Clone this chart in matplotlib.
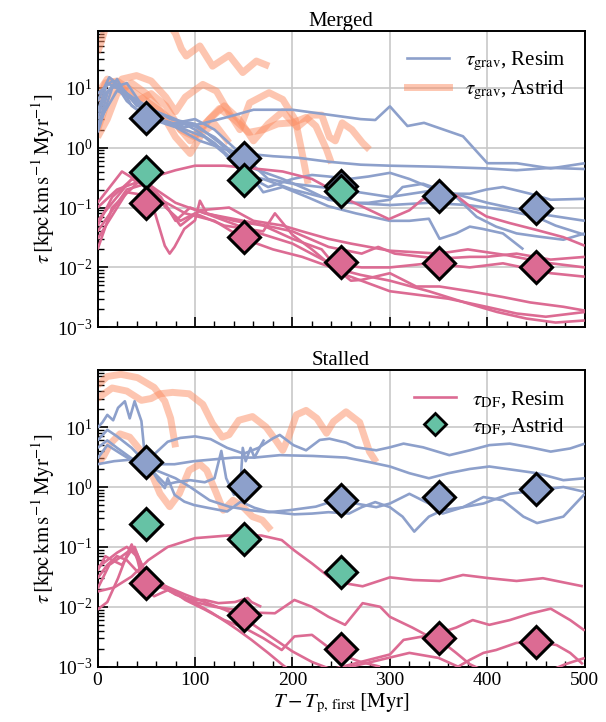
import matplotlib
matplotlib.use("Agg")
import matplotlib.pyplot as plt
from matplotlib.ticker import LogLocator, NullFormatter, MultipleLocator
from matplotlib.lines import Line2D

plt.rcParams["font.family"] = ["Liberation Serif", "DejaVu Serif"]
plt.rcParams["mathtext.fontset"] = "stix"

BLUE = "#8da0cb"
ORANGE = "#fc8d62"
GREEN = "#66c2a5"
PINK = "#dc6b93"

# ---------------- Merged: tau_grav from the resimulations ----------------
merged_grav_resim_t = [
    [0, 8, 18, 30, 50, 70, 90, 110, 135, 160, 200, 240, 270, 285, 300, 318, 335, 375, 400, 430, 465, 500],
    [0, 10, 20, 35, 55, 80, 105, 130, 150, 180, 205, 238, 270, 300, 350, 400, 430, 465, 500],
    [0, 12, 25, 40, 60, 80, 100, 120, 140, 160, 175, 200, 220, 237, 258, 278, 300, 320, 340, 361, 382, 399, 416, 444, 465, 500],
    [0, 15, 30, 50, 70, 95, 120, 140, 160, 190, 215, 237, 258, 278, 300, 313, 334, 351, 368, 389, 409, 430, 451, 478, 500],
    [0, 10, 30, 50, 75, 100, 125, 150, 170, 190, 215, 237, 265, 300, 320, 340, 351, 368, 382, 395, 416, 437],
    [0, 20, 40, 60, 90, 110, 130, 150, 170, 200, 230, 260, 300, 340, 380, 420, 450, 470, 500],
    [0, 15, 35, 55, 75, 100, 120, 140, 155, 175, 200, 250, 300, 350, 400, 450, 500],
]
merged_grav_resim_v = [
    [3, 8, 12, 6, 3.2, 2.8, 2.2, 2.6, 3.3, 4.3, 4.3, 3.5, 3.0, 2.9, 4.9, 2.3, 2.6, 1.55, 0.55, 0.55, 0.45, 0.55],
    [2, 8, 14, 5, 3, 2.2, 1.3, 0.95, 0.8, 0.72, 0.68, 0.58, 0.52, 0.5, 0.48, 0.45, 0.42, 0.46, 0.44],
    [6, 15, 10, 5, 4, 3, 2, 1.2, 0.6, 0.3, 0.22, 0.3, 0.35, 0.33, 0.3, 0.33, 0.38, 0.3, 0.22, 0.17, 0.17, 0.2, 0.22, 0.17, 0.135, 0.14],
    [1.8, 10, 12, 4, 2.5, 2.5, 1.5, 0.8, 0.45, 0.3, 0.2, 0.135, 0.12, 0.12, 0.135, 0.22, 0.25, 0.2, 0.15, 0.07, 0.048, 0.037, 0.033, 0.029, 0.037],
    [4, 12, 8, 5, 3, 2.5, 1.2, 0.5, 0.18, 0.22, 0.15, 0.105, 0.08, 0.06, 0.06, 0.065, 0.03, 0.037, 0.048, 0.044, 0.037, 0.02],
    [2.5, 9, 6, 3, 2, 1.5, 0.8, 0.35, 0.3, 0.2, 0.15, 0.12, 0.11, 0.12, 0.11, 0.09, 0.07, 0.05, 0.035],
    [8, 13, 7, 3, 2.5, 3, 2, 1.0, 0.6, 0.3, 0.25, 0.2, 0.15, 0.2, 0.12, 0.08, 0.06],
]

# ---------------- Merged: tau_grav from Astrid ----------------
merged_grav_astrid_t = [
    [0, 4, 8, 20, 45, 70, 80, 86, 91, 105, 118, 135, 149, 163, 176],
    [0, 10, 25, 40, 55, 70, 80, 90, 108, 122, 135, 146, 156, 176, 190, 203, 210, 216],
    [0, 8, 20, 35, 50, 65, 80, 95, 110, 125, 140, 155, 170, 185, 200, 214, 224, 235, 240],
    [0, 10, 25, 40, 55, 70, 85, 100, 115, 130, 145, 160, 175, 190, 205, 220, 230, 238, 244, 251, 261, 272, 279],
    [0, 10, 20, 35, 50, 65, 80, 95, 108, 120, 135],
]
merged_grav_astrid_v = [
    [39, 60, 100, 180, 200, 140, 80, 45, 34, 50, 23, 35, 18, 28, 23],
    [2, 6, 14, 16, 13, 7, 4, 7, 11.4, 8.8, 3.8, 2.0, 5.6, 8.3, 6.4, 2.9, 0.8, 0.25],
    [5, 12, 13, 9, 6, 4, 2.5, 1.3, 2.5, 4.5, 3.0, 1.8, 2.0, 2.5, 2.6, 3.2, 2.3, 0.93, 0.55],
    [8, 14, 10, 6, 8, 5, 2, 1.5, 3, 5, 3, 1.3, 2.5, 4.0, 2.2, 3.5, 3.5, 1.5, 1.3, 2.6, 2.0, 1.2, 0.93],
    [1.5, 3, 8, 12, 8, 4, 1.5, 0.8, 1.8, 2.5, 1.2],
]

# ---------------- Merged: tau_DF from the resimulations ----------------
merged_df_resim_t = [
    [0, 20, 50, 80, 100, 130, 160, 190, 220, 240, 251, 271, 299, 320, 333, 351, 368, 382, 399, 423, 451, 478, 500],
    [0, 15, 40, 60, 80, 110, 150, 200, 237, 271, 288, 305, 350, 382, 399, 430, 465, 500],
    [0, 25, 55, 70, 85, 100, 130, 170, 182, 200, 220, 237, 271, 300, 340, 382, 416, 450, 465, 500],
    [0, 15, 45, 65, 80, 95, 120, 160, 200, 237, 260, 271, 300, 327, 351, 382, 416, 444, 478, 500],
    [0, 30, 50, 59, 69, 74, 79, 89, 100, 105, 112, 140, 170, 200, 230, 250, 300, 360, 399, 430, 460, 500],
    [0, 35, 60, 85, 105, 135, 160, 190, 210, 237, 260, 300, 350, 380, 420, 460, 500],
    [0, 30, 60, 90, 120, 150, 180, 210, 240, 270, 300, 340, 380, 410, 440, 470, 500],
]
merged_df_resim_v = [
    [0.1, 0.2, 0.3, 0.42, 0.5, 0.5, 0.45, 0.4, 0.3, 0.2, 0.15, 0.105, 0.064, 0.09, 0.135, 0.17, 0.16, 0.105, 0.071, 0.055, 0.042, 0.032, 0.023],
    [0.05, 0.15, 0.35, 0.2, 0.12, 0.08, 0.06, 0.04, 0.022, 0.017, 0.022, 0.017, 0.014, 0.015, 0.015, 0.017, 0.0135, 0.015],
    [0.12, 0.4, 0.2, 0.1, 0.06, 0.08, 0.05, 0.04, 0.08, 0.035, 0.02, 0.0117, 0.010, 0.010, 0.0117, 0.010, 0.0117, 0.009, 0.008, 0.007],
    [0.02, 0.1, 0.3, 0.15, 0.06, 0.1, 0.07, 0.04, 0.025, 0.012, 0.006, 0.0062, 0.008, 0.0048, 0.0048, 0.004, 0.0032, 0.0026, 0.0022, 0.0019],
    [0.04, 0.2, 0.25, 0.08, 0.023, 0.017, 0.022, 0.044, 0.061, 0.13, 0.08, 0.06, 0.05, 0.03, 0.02, 0.008, 0.004, 0.003, 0.0022, 0.0017, 0.0015, 0.0018],
    [0.06, 0.3, 0.18, 0.05, 0.09, 0.1, 0.06, 0.05, 0.04, 0.03, 0.025, 0.019, 0.017, 0.02, 0.016, 0.012, 0.01],
    [0.03, 0.18, 0.15, 0.08, 0.06, 0.03, 0.02, 0.015, 0.01, 0.0075, 0.006, 0.004, 0.0025, 0.0018, 0.0014, 0.0012, 0.0013],
]

# ---------------- Stalled: tau_grav from the resimulations ----------------
stalled_grav_resim_t = [
    [0, 10, 20, 35, 48, 58, 72, 85, 100, 116, 133, 150, 165, 180, 187, 201, 214, 228, 238, 255, 265, 286, 300, 314, 334, 361, 382, 402, 423, 444, 465, 485, 500],
    [0, 17, 38, 58, 79, 99, 120, 140, 161, 187, 221, 255, 279, 300, 320, 340, 360, 382, 402, 430, 451, 478, 500],
    [0, 5, 10, 16, 21, 28, 33, 38, 45, 48, 55, 62, 69, 72, 79, 89, 99, 113, 133, 147, 161, 174, 202, 220, 237, 258, 271, 285, 300, 313, 325, 340, 354, 375, 396, 423, 451, 478, 500],
    [0, 10, 25, 40, 50, 60, 80, 95, 115, 135, 156, 176, 197, 224, 237, 258, 265, 286, 300, 320, 340, 354, 375, 396, 416, 437, 451, 478, 500],
    [0, 10, 20, 35, 50, 60, 70, 80, 95, 110, 120, 127, 132, 140, 147, 149, 152, 157, 161, 168, 171],
]
stalled_grav_resim_v = [
    [4.5, 6, 4.5, 3.0, 2.5, 3.5, 5.7, 6.6, 7.0, 6.3, 4.5, 3.6, 4.5, 6.5, 7.4, 5.0, 4.1, 6.1, 6.4, 5.5, 4.6, 4.1, 4.6, 5.3, 4.6, 3.4, 4.1, 5.0, 5.3, 4.6, 3.9, 4.4, 5.3],
    [2.4, 2.7, 2.9, 2.4, 2.4, 2.7, 2.9, 3.1, 3.1, 3.4, 3.3, 3.1, 2.6, 2.2, 1.7, 1.4, 1.7, 2.0, 2.2, 1.9, 1.7, 1.3, 1.4],
    [9.8, 12, 16, 13, 21, 27, 14, 27, 12.6, 4, 2.0, 1.3, 0.96, 1.4, 0.74, 0.57, 0.5, 0.45, 0.39, 0.57, 0.45, 0.39, 0.35, 0.36, 0.38, 0.36, 0.46, 0.56, 0.46, 0.32, 0.18, 0.32, 0.41, 0.46, 0.53, 0.77, 0.88, 1.0, 0.83],
    [3, 5, 3.5, 2.5, 2.3, 1.9, 1.4, 1.0, 0.6, 0.47, 0.41, 0.38, 0.41, 0.47, 0.55, 0.6, 0.53, 0.46, 0.53, 0.77, 0.53, 0.36, 0.46, 0.68, 0.6, 0.32, 0.25, 0.32, 0.77],
    [6, 9, 7, 4.5, 2.5, 1.6, 1.1, 1.2, 1.3, 1.2, 1.4, 4.0, 1.4, 0.74, 1.4, 4.5, 2.7, 4.5, 3.1, 5.1, 6.2],
]

# ---------------- Stalled: tau_grav from Astrid ----------------
stalled_grav_astrid_t = [
    [0, 10, 24, 41, 58, 69, 75, 80],
    [0, 6, 13, 23, 33, 44, 54, 64, 74, 84, 94, 105, 112, 122, 129, 139, 149, 159, 169, 178],
    [0, 15, 30, 45, 55, 64, 77, 94, 108, 118, 128, 135, 145, 159, 173, 183, 190, 196, 204, 214, 225, 235, 242, 255, 269, 279, 286],
]
stalled_grav_astrid_v = [
    [50, 70, 76, 67, 46, 27, 14, 4.6],
    [2.5, 3.2, 5.3, 7.7, 6.8, 4.1, 1.9, 0.78, 0.47, 0.78, 1.9, 2.4, 1.9, 0.78, 0.41, 0.6, 0.47, 0.32, 0.28, 0.19],
    [30, 45, 40, 28, 30, 36, 38, 36, 24, 11.4, 6.8, 7.5, 13, 15, 10, 6, 4.1, 6.8, 16, 19, 14, 7.9, 12.3, 18, 12, 3.9, 2.6],
]

# ---------------- Stalled: tau_DF from the resimulations ----------------
stalled_df_resim_t = [
    [0, 17, 35, 52, 72, 100, 134, 168, 189, 202, 220, 237, 252, 272, 300, 324, 351, 375, 402, 430, 457, 498],
    [0, 10, 21, 31, 35, 41, 48, 58, 72, 86, 99, 110, 124, 141, 154, 158, 168],
    [0, 10, 20, 30, 40, 50, 60, 70, 80, 100, 120, 140, 160, 182, 202, 220, 237, 254, 272, 290, 300, 323, 340, 368, 385, 402, 423, 444, 465, 485, 500],
    [0, 8, 15, 25, 35, 40, 48, 65, 82, 100, 117, 134, 144, 158, 175, 189, 200, 230, 260, 290, 320, 350, 370, 382, 396, 409, 430, 451, 471, 485, 498],
    [0, 12, 25, 38, 45, 55, 70, 90, 110, 130, 145, 160, 180, 200, 220, 240, 270, 300, 314, 334, 351, 368, 382, 400, 430, 460, 480, 500],
    [0, 10, 20, 30, 40, 50, 70, 90, 110, 130, 150, 170, 189, 202, 220, 237, 254, 270, 290],
]
stalled_df_resim_v = [
    [0.018, 0.021, 0.032, 0.06, 0.1, 0.14, 0.155, 0.155, 0.13, 0.087, 0.053, 0.032, 0.025, 0.022, 0.031, 0.028, 0.027, 0.034, 0.03, 0.027, 0.03, 0.022],
    [0.009, 0.012, 0.03, 0.08, 0.11, 0.06, 0.021, 0.015, 0.019, 0.015, 0.013, 0.013, 0.0115, 0.012, 0.014, 0.012, 0.01],
    [0.045, 0.06, 0.08, 0.1, 0.07, 0.03, 0.025, 0.02, 0.016, 0.012, 0.01, 0.009, 0.008, 0.0078, 0.013, 0.01, 0.0068, 0.005, 0.0115, 0.01, 0.0068, 0.0045, 0.0032, 0.0045, 0.006, 0.005, 0.006, 0.0077, 0.0093, 0.006, 0.004],
    [0.04, 0.07, 0.06, 0.05, 0.09, 0.08, 0.041, 0.021, 0.017, 0.0115, 0.008, 0.0053, 0.0041, 0.0028, 0.0017, 0.0011, 0.0008, 0.0007, 0.001, 0.0013, 0.0017, 0.0014, 0.001, 0.0013, 0.0017, 0.0019, 0.0025, 0.0026, 0.0023, 0.0017, 0.0011],
    [0.02, 0.05, 0.07, 0.1, 0.05, 0.03, 0.022, 0.016, 0.012, 0.009, 0.007, 0.005, 0.003, 0.0018, 0.0012, 0.0009, 0.0012, 0.0016, 0.0028, 0.0032, 0.0028, 0.0017, 0.0011, 0.0008, 0.0006, 0.0008, 0.0011, 0.0014],
    [0.03, 0.05, 0.07, 0.06, 0.04, 0.03, 0.022, 0.013, 0.009, 0.006, 0.0045, 0.003, 0.0019, 0.0032, 0.0034, 0.0021, 0.0015, 0.0012, 0.001],
]

# ---------------- Binned markers (every 100 Myr) ----------------
bin_t = [50, 150, 250, 350, 450]
merged_grav_resim_bins = [3.1, 0.67, 0.23, 0.155, 0.10]
merged_df_resim_bins = [0.117, 0.032, 0.0125, 0.0117, 0.0102]
merged_df_astrid_bins = [0.39, 0.29, 0.19]
stalled_grav_resim_bins = [2.6, 1.02, 0.6, 0.68, 0.93]
stalled_df_resim_bins = [0.0245, 0.0072, 0.002, 0.003, 0.0026]
stalled_df_astrid_bins = [0.245, 0.134, 0.038]

LW_THIN = 1.9
LW_THICK = 5.0
MS = 16
MEW = 2.2


def draw_lines(ax, ts, vs, color, lw, alpha=1.0, z=2):
    for t, v in zip(ts, vs):
        ax.plot(t, v, color=color, lw=lw, alpha=alpha, zorder=z,
                solid_capstyle="butt", solid_joinstyle="round")


def draw_bins(ax, t, v, color):
    ax.plot(t[:len(v)], v, ls="none", marker="D", ms=MS, mfc=color,
            mec="black", mew=MEW, zorder=10)


def style_axis(ax):
    ax.set_yscale("log")
    ax.set_xlim(0, 500)
    ax.set_ylim(1e-3, 90)
    ax.yaxis.set_major_locator(LogLocator(base=10, numticks=10))
    ax.yaxis.set_minor_locator(LogLocator(base=10, subs=range(2, 10), numticks=20))
    ax.yaxis.set_minor_formatter(NullFormatter())
    ax.xaxis.set_major_locator(MultipleLocator(100))
    ax.xaxis.set_minor_locator(MultipleLocator(20))
    ax.tick_params(which="both", direction="in", top=False, right=False,
                   labelsize=14)
    ax.tick_params(which="major", length=7, width=1.2)
    ax.tick_params(which="minor", length=4, width=1.0)
    ax.grid(True, which="major", color="#c8c8c8", lw=1.2, zorder=0)
    ax.set_axisbelow(True)
    for s in ax.spines.values():
        s.set_linewidth(1.4)
    ax.set_ylabel(r"$\tau\,[\mathrm{kpc\,km\,s^{-1}\,Myr^{-1}}]$", fontsize=15,
                  labelpad=0)


fig = plt.figure(figsize=(6.06, 7.22), dpi=100)
ax_top = fig.add_axes([0.161, 0.5467, 0.804, 0.4108])
ax_bot = fig.add_axes([0.161, 0.0766, 0.804, 0.411])

# Merged panel
draw_lines(ax_top, merged_grav_astrid_t, merged_grav_astrid_v, ORANGE, LW_THICK, alpha=0.5, z=2)
draw_lines(ax_top, merged_grav_resim_t, merged_grav_resim_v, BLUE, LW_THIN, z=3)
draw_lines(ax_top, merged_df_resim_t, merged_df_resim_v, PINK, LW_THIN, z=3)
draw_bins(ax_top, bin_t, merged_grav_resim_bins, BLUE)
draw_bins(ax_top, bin_t, merged_df_astrid_bins, GREEN)
draw_bins(ax_top, bin_t, merged_df_resim_bins, PINK)
style_axis(ax_top)
ax_top.tick_params(labelbottom=False)
ax_top.set_title("Merged", fontsize=15, pad=3)
h_top = [Line2D([], [], color=BLUE, lw=LW_THIN),
         Line2D([], [], color=ORANGE, lw=LW_THICK, alpha=0.5)]
ax_top.legend(h_top, [r"$\tau_{\mathrm{grav}}$, Resim", r"$\tau_{\mathrm{grav}}$, Astrid"],
              loc="upper right", frameon=False, fontsize=15, handlelength=2.0,
              borderaxespad=0.5, labelspacing=0.3)

# Stalled panel
draw_lines(ax_bot, stalled_grav_astrid_t, stalled_grav_astrid_v, ORANGE, LW_THICK, alpha=0.5, z=2)
draw_lines(ax_bot, stalled_grav_resim_t, stalled_grav_resim_v, BLUE, LW_THIN, z=3)
draw_lines(ax_bot, stalled_df_resim_t, stalled_df_resim_v, PINK, LW_THIN, z=3)
draw_bins(ax_bot, bin_t, stalled_grav_resim_bins, BLUE)
draw_bins(ax_bot, bin_t, stalled_df_astrid_bins, GREEN)
draw_bins(ax_bot, bin_t, stalled_df_resim_bins, PINK)
style_axis(ax_bot)
ax_bot.set_title("Stalled", fontsize=15, pad=3)
ax_bot.set_xlabel(r"$T-T_{\mathrm{p,\,first}}\;[\mathrm{Myr}]$", fontsize=15, labelpad=2)
h_bot = [Line2D([], [], color=PINK, lw=LW_THIN),
         Line2D([], [], ls="none", marker="D", ms=11, mfc=GREEN, mec="black", mew=2)]
ax_bot.legend(h_bot, [r"$\tau_{\mathrm{DF}}$, Resim", r"$\tau_{\mathrm{DF}}$, Astrid"],
              loc="upper right", frameon=False, fontsize=15, handlelength=2.0,
              borderaxespad=0.5, labelspacing=0.3)

fig.savefig("out.png", dpi=100)
